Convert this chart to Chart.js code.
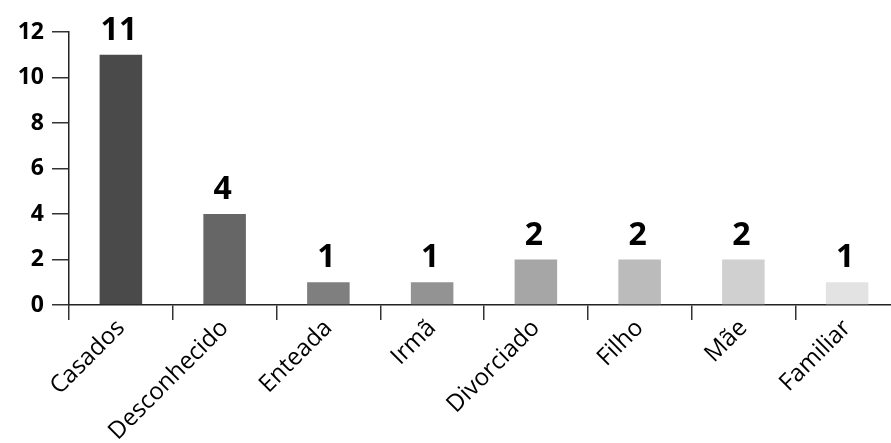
<!DOCTYPE html>
<html>
<head>
<meta charset="utf-8">
<script src="https://cdn.jsdelivr.net/npm/chart.js@4/dist/chart.umd.min.js"></script>
<style>
  html, body { margin: 0; padding: 0; background: #fff; overflow: hidden; }
  #wrap { width: 900px; height: 443px; }
</style>
</head>
<body>
<div id="wrap"><canvas id="chart" width="900" height="443"></canvas></div>
<script>
// Relação com o agressor
const categories = ['Casados', 'Desconhecido', 'Enteada', 'Irmã', 'Divorciado', 'Filho', 'Mãe', 'Familiar'];
const counts = [11, 4, 1, 1, 2, 2, 2, 1];
const barColors = ['#4a4a4a', '#666666', '#7f7f7f', '#939393', '#a6a6a6', '#bbbbbb', '#d0d0d0', '#e3e3e3'];
const yTicks = [0, 2, 4, 6, 8, 10, 12];

const FONT = "'Open Sans', 'Noto Sans', sans-serif";

// Writes each bar's count above it
const valueLabels = {
  id: 'valueLabels',
  afterDatasetsDraw(chart) {
    const ctx = chart.ctx;
    const meta = chart.getDatasetMeta(0);
    ctx.save();
    ctx.fillStyle = '#000';
    ctx.font = 'bold 32px ' + FONT;
    ctx.textAlign = 'center';
    ctx.textBaseline = 'alphabetic';
    meta.data.forEach((bar, i) => {
      ctx.fillText(String(counts[i]), bar.x - 2, bar.y - 15);
    });
    ctx.restore();
  }
};

new Chart(document.getElementById('chart'), {
  type: 'bar',
  data: {
    labels: categories,
    datasets: [{
      data: counts,
      backgroundColor: barColors,
      borderWidth: 0,
      categoryPercentage: 1,
      barPercentage: 0.41
    }]
  },
  options: {
    responsive: false,
    animation: false,
    layout: { padding: { top: 32, right: 1, left: 0, bottom: 0 } },
    plugins: {
      legend: { display: false },
      tooltip: { enabled: false }
    },
    scales: {
      y: {
        min: 0,
        max: 12,
        afterFit(scale) { scale.width = 69; },
        afterBuildTicks(scale) { scale.ticks = yTicks.map(v => ({ value: v })); },
        border: { display: true, color: '#222', width: 1.5 },
        grid: {
          drawOnChartArea: false,
          drawTicks: true,
          tickLength: 17,
          color: '#333',
          lineWidth: 1.5
        },
        ticks: {
          color: '#000',
          padding: 8,
          font: { family: FONT, size: 23, weight: 'bold' }
        }
      },
      x: {
        afterFit(scale) { scale.height = 138; },
        border: { display: true, color: '#222', width: 1.5 },
        grid: {
          offset: true,
          drawOnChartArea: false,
          drawTicks: true,
          tickLength: 15,
          color: '#333',
          lineWidth: 1.5
        },
        ticks: {
          color: '#000',
          autoSkip: false,
          maxRotation: 45,
          minRotation: 45,
          padding: -6,
          font: { family: FONT, size: 24 }
        }
      }
    }
  },
  plugins: [valueLabels]
});
</script>
</body>
</html>
